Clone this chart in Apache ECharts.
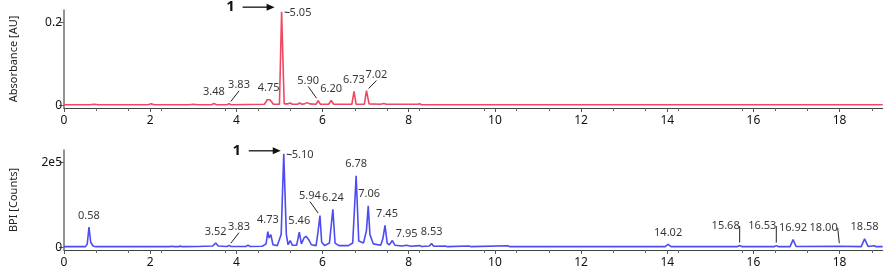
<!DOCTYPE html>
<html><head><meta charset="utf-8">
<script src="https://cdn.jsdelivr.net/npm/echarts@6/dist/echarts.min.js"></script>
<style>html,body{margin:0;padding:0;background:#fff}#c{width:886px;height:271px}</style>
</head><body><div id="c"></div>
<script>
// ---- Data ----
const xTicks = [0, 2, 4, 6, 8, 10, 12, 14, 16, 18];
const uvYTicks = [0, 0.2];
const uvYTickLabels = ['0', '0.2'];
const bpiYTicks = [0, 200000];
const bpiYTickLabels = ['0', '2e5'];

// UV trace (time in min, absorbance in AU)
const uvTime = [0, 0.6, 0.7, 0.8, 1.95, 2.02, 2.1, 2.9, 3.0, 3.1, 3.42, 3.48, 3.54, 3.78, 3.83, 3.88, 4.65, 4.72, 4.75, 4.78, 4.81, 4.86, 5.0, 5.05, 5.11, 5.2, 5.25, 5.3, 5.42, 5.47, 5.52, 5.58, 5.64, 5.70, 5.85, 5.90, 5.95, 6.14, 6.20, 6.26, 6.68, 6.73, 6.78, 6.97, 7.02, 7.08, 7.35, 7.42, 7.48, 8.2, 8.25, 8.3, 19];
const uvAbs  = [0.002, 0.002, 0.003, 0.002, 0.002, 0.004, 0.002, 0.002, 0.003, 0.002, 0.002, 0.005, 0.002, 0.002, 0.004, 0.002, 0.003, 0.014, 0.016, 0.014, 0.017, 0.003, 0.003, 0.226, 0.004, 0.004, 0.006, 0.003, 0.003, 0.006, 0.003, 0.004, 0.007, 0.004, 0.003, 0.012, 0.003, 0.003, 0.012, 0.003, 0.003, 0.034, 0.003, 0.003, 0.036, 0.004, 0.003, 0.005, 0.003, 0.003, 0.004, 0.002, 0.002];

// BPI trace (time in min, counts)
const bpiTime   = [0, 0.5, 0.54, 0.58, 0.62, 0.68, 0.75, 2.45, 2.5, 2.55, 2.65, 2.7, 2.75, 3.1, 3.45, 3.52, 3.58, 3.78, 3.83, 3.88, 4.22, 4.27, 4.32, 4.6, 4.69, 4.73, 4.76, 4.80, 4.85, 4.95, 5.04, 5.10, 5.16, 5.2, 5.25, 5.3, 5.4, 5.46, 5.51, 5.57, 5.62, 5.68, 5.74, 5.85, 5.90, 5.94, 5.98, 6.05, 6.16, 6.24, 6.29, 6.38, 6.42, 6.46, 6.5, 6.6, 6.7, 6.78, 6.84, 6.95, 7.02, 7.06, 7.1, 7.13, 7.18, 7.35, 7.40, 7.45, 7.50, 7.55, 7.62, 7.68, 7.85, 7.95, 8.05, 8.25, 8.3, 8.48, 8.53, 8.58, 8.85, 8.9, 9.4, 9.45, 10.3, 10.35, 13.95, 14.02, 14.09, 15.62, 15.68, 15.74, 16.48, 16.53, 16.58, 16.85, 16.92, 16.99, 18.0, 18.5, 18.58, 18.66, 18.8, 18.85, 19];
const bpiCounts = [1500, 1500, 8000, 48000, 12000, 2500, 1500, 1500, 2500, 1500, 1500, 2800, 1500, 2000, 3000, 10000, 3000, 2000, 4000, 2000, 2000, 5000, 2000, 2500, 8000, 37000, 22000, 30000, 6000, 4000, 30000, 221000, 30000, 6000, 16000, 5000, 5000, 36000, 8000, 22000, 26000, 18000, 6000, 4000, 40000, 75000, 12000, 4000, 10000, 90000, 10000, 4000, 7000, 4000, 6000, 4000, 10000, 169000, 15000, 10000, 40000, 98000, 30000, 27000, 8000, 5000, 20000, 52000, 10000, 6000, 16000, 5000, 3000, 5000, 2500, 4000, 2000, 3000, 9000, 2500, 3000, 1500, 3000, 1500, 3500, 1500, 1500, 7000, 1500, 1500, 4000, 1500, 1500, 4000, 1500, 1500, 18000, 2000, 2500, 1500, 20000, 2000, 3500, 1500, 1500];

// Peak annotations
const uvPeakLabels  = ['3.48', '3.83', '4.75', '5.05', '5.90', '6.20', '6.73', '7.02'];
const bpiPeakLabels = ['0.58', '3.52', '3.83', '4.73', '5.10', '5.46', '5.94', '6.24', '6.78', '7.06', '7.45', '7.95', '8.53', '14.02', '15.68', '16.53', '16.92', '18.00', '18.58'];
const mainPeakTag = '1';
const uvMainPeak = '5.05';
const bpiMainPeak = '5.10';

// ---- Styling (label placement tweaks) ----
const uvLeader  = { '3.83': [10, -7], '5.90': [-10, -8], '7.02': [10, -4] };
const bpiLeader = { '3.83': [10, -7], '5.94': [-10, -8], '15.68': [-14, -8], '16.53': [-14, -8], '18.00': [-16, -7] };
const uvNudge   = {};
const bpiNudge  = { '7.06': [1, 0], '7.45': [2, 0] };

const FONT = 'Noto Sans';
const RED = '#f04862';
const BLUE = '#4c4cf0';

function zip(t, v) { return t.map((x, i) => [x, v[i]]); }
function apex(t, v, lbl) {
  const x = parseFloat(lbl);
  let best = 0, bd = 1e9;
  t.forEach((tt, i) => { const d = Math.abs(tt - x); if (d < bd) { bd = d; best = i; } });
  return [t[best], v[best]];
}
function labelData(t, v, labels, leader, nudge, main) {
  return labels.map(l => {
    const item = { value: apex(t, v, l), name: l };
    if (leader[l]) item.labelLine = { show: true };
    if (l === main) {
      item.label = { position: 'right', distance: 2 };
      item.labelLine = { show: true };
    }
    return item;
  });
}
function layoutFn(labels, leader, nudge, main) {
  return function (p) {
    const l = labels[p.dataIndex];
    if (l === main) return { dx: 3, dy: 1 };
    const o = leader[l] || nudge[l];
    if (o) return { dx: o[0], dy: o[1] };
    return {};
  };
}

const xAxisBase = (gi) => ({
  type: 'value', gridIndex: gi, min: 0, max: 19,
  axisLine: { onZero: false, lineStyle: { color: '#3d4542', width: 1.2 } },
  axisTick: { show: true, length: 4, lineStyle: { color: '#555' }, customValues: xTicks },
  minorTick: { show: true, splitNumber: 4, length: 3, lineStyle: { color: '#666' } },
  axisLabel: { customValues: xTicks, color: '#111', fontFamily: FONT, fontSize: 12, margin: 7 },
  splitLine: { show: false }, minorSplitLine: { show: false }
});
const yAxisBase = (gi, min, max, ticks, tickLabels, name) => ({
  type: 'value', gridIndex: gi, min: min, max: max,
  name: name, nameLocation: 'middle', nameRotate: 90, nameGap: 45,
  nameTextStyle: { color: '#222', fontFamily: FONT, fontSize: 11 },
  axisLine: { show: true, lineStyle: { color: '#7a7a7a', width: 1.6 } },
  axisTick: { show: true, length: 5, customValues: ticks, lineStyle: { color: '#666' } },
  axisLabel: { customValues: ticks, margin: 2, color: '#111', fontFamily: FONT, fontSize: 12,
    formatter: (val) => { const i = ticks.indexOf(val); return i >= 0 ? tickLabels[i] : ''; } },
  splitLine: { show: false }
});

const labelStyle = { show: true, position: 'top', distance: 3, color: '#000', fontFamily: FONT, fontSize: 11,
  formatter: (p) => p.name };

const chart = echarts.init(document.getElementById('c'), null, { renderer: 'canvas' });
chart.setOption({
  animation: false,
  backgroundColor: '#fff',
  grid: [
    { left: 57.3, right: 3.3, top: 10, height: 98 },
    { left: 57.3, right: 3.3, top: 150, height: 100 }
  ],
  xAxis: [xAxisBase(0), xAxisBase(1)],
  yAxis: [
    yAxisBase(0, -0.006, 0.23, uvYTicks, uvYTickLabels, 'Absorbance [AU]'),
    yAxisBase(1, -6400, 230000, bpiYTicks, bpiYTickLabels, 'BPI [Counts]')
  ],
  series: [
    { type: 'line', xAxisIndex: 0, yAxisIndex: 0, data: zip(uvTime, uvAbs), showSymbol: false, silent: true,
      lineStyle: { color: RED, width: 1.6 }, z: 3 },
    { type: 'line', xAxisIndex: 1, yAxisIndex: 1, data: zip(bpiTime, bpiCounts), showSymbol: false, silent: true,
      lineStyle: { color: BLUE, width: 1.6 }, z: 3 },
    { type: 'scatter', xAxisIndex: 0, yAxisIndex: 0, symbolSize: 6, itemStyle: { color: 'rgba(0,0,0,0)' },
      data: labelData(uvTime, uvAbs, uvPeakLabels, uvLeader, uvNudge, uvMainPeak),
      label: labelStyle, labelLine: { show: false, lineStyle: { color: '#222', width: 1 } },
      labelLayout: layoutFn(uvPeakLabels, uvLeader, uvNudge, uvMainPeak), z: 5 },
    { type: 'scatter', xAxisIndex: 1, yAxisIndex: 1, symbolSize: 6, itemStyle: { color: 'rgba(0,0,0,0)' },
      data: labelData(bpiTime, bpiCounts, bpiPeakLabels, bpiLeader, bpiNudge, bpiMainPeak),
      label: labelStyle, labelLine: { show: false, lineStyle: { color: '#222', width: 1 } },
      labelLayout: layoutFn(bpiPeakLabels, bpiLeader, bpiNudge, bpiMainPeak), z: 5 }
  ]
});

// "1 →" markers pointing at the main peak in both panels
function arrowGraphics(gi, t, v, lbl, dxEnd, dyEnd) {
  const a = apex(t, v, lbl);
  const p = chart.convertToPixel({ gridIndex: gi }, a);
  const ex = p[0] - dxEnd, ey = p[1] - dyEnd;
  const sx = ex - 32;
  return [
    { type: 'line', shape: { x1: sx, y1: ey, x2: ex - 7, y2: ey }, style: { stroke: '#111', lineWidth: 1.3 }, z: 10 },
    { type: 'polygon', shape: { points: [[ex, ey], [ex - 8, ey - 3.5], [ex - 8, ey + 3.5]] }, style: { fill: '#111' }, z: 10 },
    { type: 'text', x: sx - 12, y: ey, style: { text: mainPeakTag, font: 'bold 15px ' + FONT, fill: '#111', align: 'center', verticalAlign: 'middle' }, z: 10 }
  ];
}
chart.setOption({
  graphic: [].concat(
    arrowGraphics(0, uvTime, uvAbs, uvMainPeak, 7, 4.5),
    arrowGraphics(1, bpiTime, bpiCounts, bpiMainPeak, 3, 3)
  )
});
</script>
</body></html>
